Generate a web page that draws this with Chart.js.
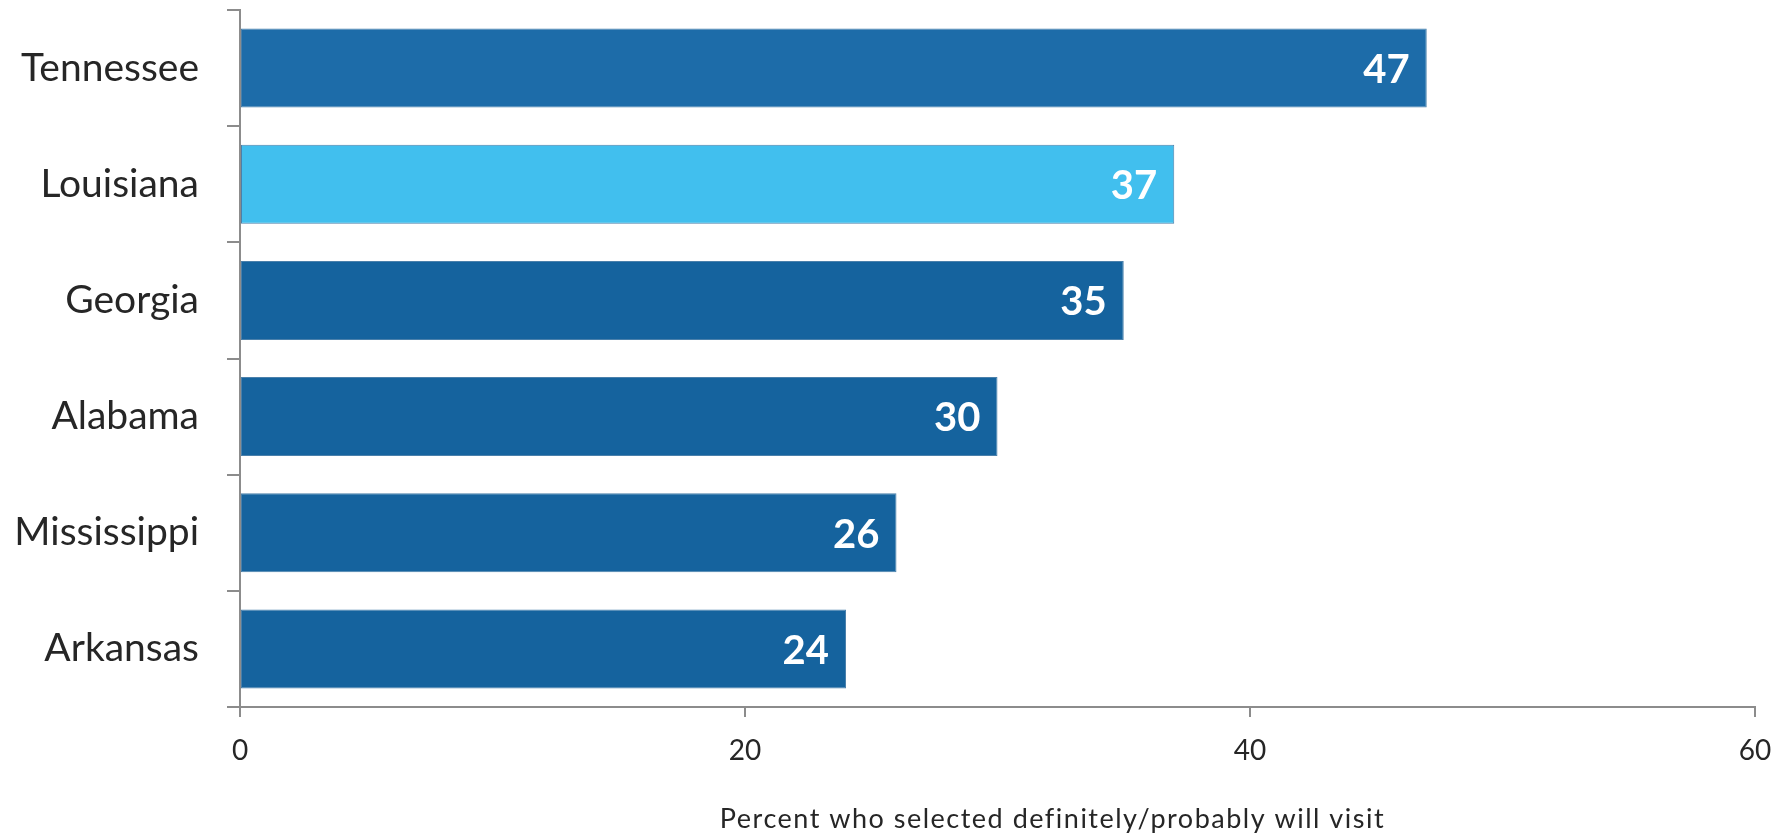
<!DOCTYPE html>
<html>
<head>
<meta charset="utf-8">
<script src="https://cdn.jsdelivr.net/npm/chart.js@4.4.1/dist/chart.umd.min.js"></script>
<style>
  html, body { margin: 0; padding: 0; background: #ffffff; }
  #wrap { width: 1785px; height: 837px; }
</style>
</head>
<body>
<div id="wrap"><canvas id="chart" width="1785" height="837"></canvas></div>
<script>
// States and share of respondents who will definitely/probably visit
const states = ['Tennessee', 'Louisiana', 'Georgia', 'Alabama', 'Mississippi', 'Arkansas'];
const visitPercent = [47, 37, 35, 30, 26, 24];
const barColors = ['#1d6ca9', '#41bfee', '#15639e', '#15639e', '#15639e', '#15639e'];
const xTicks = [0, 20, 40, 60];
const xAxisTitle = 'Percent who selected definitely/probably will visit';

const FONT = 'Lato, "Open Sans", sans-serif';
const TEXT = '#262626';
const AXIS = '#8c8c8c';

// White value labels inside the right end of each bar
const barValueLabels = {
  id: 'barValueLabels',
  afterDatasetsDraw(chart) {
    const ctx = chart.ctx;
    const meta = chart.getDatasetMeta(0);
    ctx.save();
    ctx.font = 'bold 40px ' + FONT;
    ctx.fillStyle = '#ffffff';
    ctx.textAlign = 'right';
    ctx.textBaseline = 'middle';
    meta.data.forEach((bar, i) => {
      ctx.fillText(String(visitPercent[i]), bar.x - 17, bar.y + 2);
    });
    ctx.restore();
  }
};

// Axis title below the value axis
const valueAxisTitle = {
  id: 'valueAxisTitle',
  afterDraw(chart) {
    const ctx = chart.ctx;
    const area = chart.chartArea;
    ctx.save();
    ctx.font = '27px ' + FONT;
    ctx.letterSpacing = '1.5px';
    ctx.fillStyle = TEXT;
    ctx.textAlign = 'center';
    ctx.textBaseline = 'alphabetic';
    ctx.fillText(xAxisTitle, (area.left + area.right) / 2 + 55, chart.height - 9);
    ctx.restore();
  }
};

new Chart(document.getElementById('chart'), {
  type: 'bar',
  data: {
    labels: states,
    datasets: [{
      data: visitPercent,
      backgroundColor: barColors,
      borderColor: '#4a80ab',
      borderWidth: 1,
      borderSkipped: false,
      barPercentage: 0.68,
      categoryPercentage: 1.0
    }]
  },
  options: {
    indexAxis: 'y',
    responsive: false,
    animation: false,
    events: [],
    layout: { padding: { top: 10, right: 30, left: 0, bottom: 0 } },
    plugins: {
      legend: { display: false },
      tooltip: { enabled: false },
      title: { display: false }
    },
    scales: {
      x: {
        type: 'linear',
        min: xTicks[0],
        max: xTicks[xTicks.length - 1],
        afterBuildTicks(scale) { scale.ticks = xTicks.map(v => ({ value: v })); },
        afterFit(scale) {
          scale.height = 130;
          scale.paddingRight = 0;
        },
        grid: { display: true, drawOnChartArea: false, drawTicks: true, tickLength: 10, color: AXIS, lineWidth: 2 },
        border: { display: true, color: AXIS, width: 2 },
        ticks: { color: TEXT, font: { family: FONT, size: 28 }, padding: 17, maxRotation: 0 }
      },
      y: {
        type: 'category',
        offset: true,
        afterFit(scale) {
          scale.width = 240;
          scale.paddingTop = 0;
          scale.paddingBottom = 0;
        },
        grid: { display: true, offset: true, drawOnChartArea: false, drawTicks: true, tickLength: 13, color: AXIS, lineWidth: 2 },
        border: { display: true, color: AXIS, width: 2 },
        ticks: { color: TEXT, font: { family: FONT, size: 39 }, padding: 28 }
      }
    }
  },
  plugins: [barValueLabels, valueAxisTitle]
});
</script>
</body>
</html>
